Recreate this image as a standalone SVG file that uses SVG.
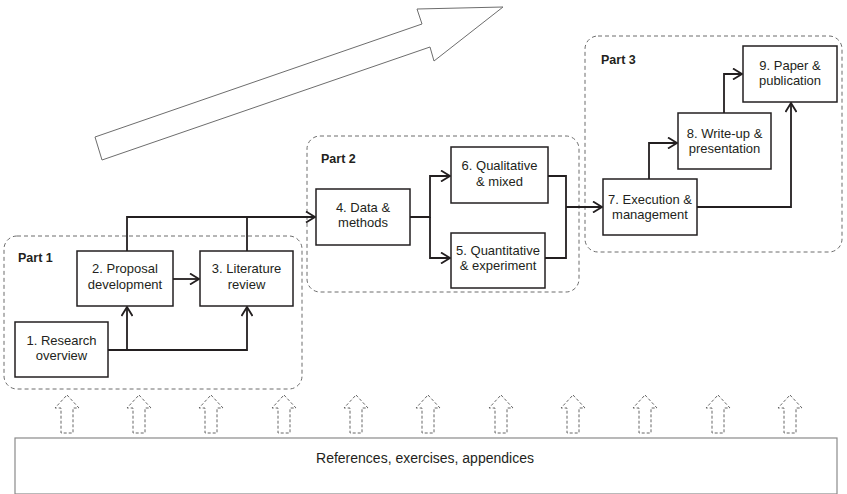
<svg xmlns="http://www.w3.org/2000/svg" width="847" height="494" viewBox="0 0 847 494">
<style>
text{font-family:"Liberation Sans",Arial,sans-serif;fill:#231f20}
.lbl{font-size:13px;text-anchor:middle}
.part{font-size:12.5px;font-weight:bold}
.box{fill:#fff;stroke:#231f20;stroke-width:1.5}
.grp{fill:none;stroke:#6d6d6d;stroke-width:1;stroke-dasharray:4,3}
.con{fill:none;stroke:#231f20;stroke-width:1.8}
.up{fill:none;stroke:#555;stroke-width:0.9;stroke-dasharray:3,2}
</style>
<defs>
<marker id="ah" markerUnits="userSpaceOnUse" viewBox="-10 -6 12 12" refX="0" refY="0" markerWidth="12" markerHeight="12" orient="auto">
<path d="M-9,-5.5 L0,0 L-9,5.5" fill="none" stroke="#231f20" stroke-width="1.8"/>
</marker>
<path id="ua" d="M0,0 L12,13 L6,13 L6,38 L-6,38 L-6,13 L-12,13 Z"/>
</defs>

<g id="big-arrow">
<polygon points="95,137 422,24 417,9 503,7 434,61 430,47 102,160" fill="#fff" stroke="#6d6d6d" stroke-width="1"/>
</g>

<g id="part1"><rect class="grp" x="4" y="236" width="298" height="153" rx="13"/><text class="part" x="18" y="262">Part 1</text></g>
<g id="part2"><rect class="grp" x="307" y="136" width="272" height="156" rx="13"/><text class="part" x="321" y="163">Part 2</text></g>
<g id="part3"><rect class="grp" x="585" y="36" width="257" height="216" rx="13"/><text class="part" x="601" y="64">Part 3</text></g>

<g id="connectors">
<path class="con" d="M108,350 H127 V307" marker-end="url(#ah)"/>
<path class="con" d="M127,350 H247 V307" marker-end="url(#ah)"/>
<path class="con" d="M173,279 H199" marker-end="url(#ah)"/>
<path class="con" d="M127,251 V217 H315" marker-end="url(#ah)"/>
<path class="con" d="M247,251 V217"/>
<path class="con" d="M410,217 H430 V176 H450" marker-end="url(#ah)"/>
<path class="con" d="M430,217 V258 H450" marker-end="url(#ah)"/>
<path class="con" d="M548,176 H566 V258 H545"/>
<path class="con" d="M566,207 H602" marker-end="url(#ah)"/>
<path class="con" d="M649,179 V143 H677" marker-end="url(#ah)"/>
<path class="con" d="M724,113 V74 H742" marker-end="url(#ah)"/>
<path class="con" d="M697,207 H791 V103" marker-end="url(#ah)"/>
</g>

<g id="n1"><rect class="box" x="15" y="322" width="93" height="55"/><text class="lbl" x="61.5" y="345">1. Research</text><text class="lbl" x="61.5" y="360">overview</text></g>
<g id="n2"><rect class="box" x="77" y="251" width="96" height="55"/><text class="lbl" x="125" y="273">2. Proposal</text><text class="lbl" x="125" y="289">development</text></g>
<g id="n3"><rect class="box" x="200" y="251" width="93" height="55"/><text class="lbl" x="246.5" y="273">3. Literature</text><text class="lbl" x="246.5" y="289">review</text></g>
<g id="n4"><rect class="box" x="316" y="189" width="94" height="56"/><text class="lbl" x="363" y="212">4. Data &amp;</text><text class="lbl" x="363" y="227">methods</text></g>
<g id="n6"><rect class="box" x="451" y="147" width="97" height="56"/><text class="lbl" x="499.5" y="170">6. Qualitative</text><text class="lbl" x="499.5" y="186">&amp; mixed</text></g>
<g id="n5"><rect class="box" x="451" y="233" width="94" height="55"/><text class="lbl" x="498" y="255">5. Quantitative</text><text class="lbl" x="498" y="270">&amp; experiment</text></g>
<g id="n7"><rect class="box" x="603" y="179" width="94" height="56"/><text class="lbl" x="650" y="204">7. Execution &amp;</text><text class="lbl" x="650" y="219">management</text></g>
<g id="n8"><rect class="box" x="678" y="113" width="93" height="56"/><text class="lbl" x="724.5" y="138">8. Write-up &amp;</text><text class="lbl" x="724.5" y="153">presentation</text></g>
<g id="n9"><rect class="box" x="743" y="46" width="94" height="56"/><text class="lbl" x="790" y="70">9. Paper &amp;</text><text class="lbl" x="790" y="85">publication</text></g>

<g id="support-arrows">
<use href="#ua" class="up" x="67" y="395"/>
<use href="#ua" class="up" x="139" y="395"/>
<use href="#ua" class="up" x="211" y="395"/>
<use href="#ua" class="up" x="284" y="395"/>
<use href="#ua" class="up" x="356" y="395"/>
<use href="#ua" class="up" x="428" y="395"/>
<use href="#ua" class="up" x="501" y="395"/>
<use href="#ua" class="up" x="573" y="395"/>
<use href="#ua" class="up" x="645" y="395"/>
<use href="#ua" class="up" x="718" y="395"/>
<use href="#ua" class="up" x="790" y="395"/>
</g>

<g id="references"><rect x="15" y="438" width="822" height="56" fill="#fff" stroke="#8a8a8a" stroke-width="1.2"/><text x="425" y="463" style="font-size:14px;text-anchor:middle">References, exercises, appendices</text></g>
</svg>
